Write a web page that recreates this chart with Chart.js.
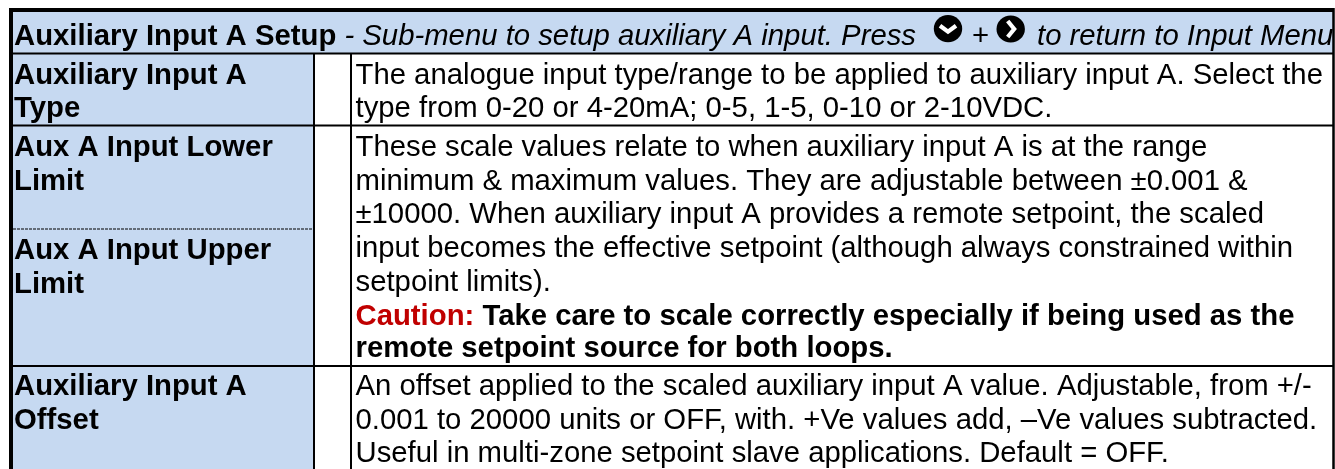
<!DOCTYPE html>
<html><head><meta charset="utf-8">
<style>html,body{margin:0;padding:0;background:#fff}#w{position:relative;width:1335px;height:469px}canvas{display:block}</style>
<script src="https://cdn.jsdelivr.net/npm/chart.js@4"></script>
</head><body><div id="w"><canvas id="c" width="1335" height="469"></canvas></div>
<script>
// Table content (the "data" of this figure)
const titleBold = "Auxiliary Input A Setup";
const titleItalicA = " - Sub-menu to setup auxiliary A input. Press";
const titlePlus = "+";
const titleItalicB = "to return to Input Menu";
const parameterLines = [
  ["Auxiliary Input A", "Type"],
  ["Aux A Input Lower", "Limit"],
  ["Aux A Input Upper", "Limit"],
  ["Auxiliary Input A", "Offset"]
];
const descriptionLines = [
  "The analogue input type/range to be applied to auxiliary input A. Select the",
  "type from 0-20 or 4-20mA; 0-5, 1-5, 0-10 or 2-10VDC.",
  "These scale values relate to when auxiliary input A is at the range",
  "minimum & maximum values. They are adjustable between ±0.001 &",
  "±10000. When auxiliary input A provides a remote setpoint, the scaled",
  "input becomes the effective setpoint (although always constrained within",
  "setpoint limits).",
  "",
  "remote setpoint source for both loops.",
  "An offset applied to the scaled auxiliary input A value. Adjustable, from +/-",
  "0.001 to 20000 units or OFF, with. +Ve values add, –Ve values subtracted.",
  "Useful in multi-zone setpoint slave applications. Default = OFF."
];
const cautionLabel = "Caution:";
const cautionText = " Take care to scale correctly especially if being used as the";

// Table geometry, in axis units
const colEdges = [11, 314, 351, 1333.5];
const rowEdges = [10, 53.5, 125.5, 366, 480];
const dashedY = 229;
const descBaselines = [84,116.5,155.5,189.5,223,257,290.5,324.5,357,394.5,428.5,462];
const paramBaselines = [[84,116.5],[155.5,189.5],[258.5,292.5],[394.5,428.5]];
const BLUE = "#C6D9F1";

function cell(l, r, t, b) {
  return { type:"bar", data:[{x:(l+r)/2, y:[t,b]}], barThickness:r-l, grouped:false,
           backgroundColor:BLUE, borderWidth:0, order:5 };
}
function rule(x1,y1,x2,y2,w,dash) {
  return { type:"line", data:[{x:x1,y:y1},{x:x2,y:y2}], borderColor:"#000", borderWidth:w,
           borderDash:dash||[], pointRadius:0, fill:false, tension:0, order:1 };
}
const datasets = [
  cell(colEdges[0], colEdges[3], rowEdges[0], rowEdges[1]),
  cell(colEdges[0], colEdges[1], rowEdges[1], rowEdges[4]),
  rule(colEdges[0],10,colEdges[3],10,4),
  rule(11,8,11,469,4),
  rule(colEdges[3],8,colEdges[3],469,2.5),
  rule(11,rowEdges[1],colEdges[3],rowEdges[1],2),
  rule(11,rowEdges[2],colEdges[3],rowEdges[2],2),
  rule(11,rowEdges[3],colEdges[3],rowEdges[3],2),
  rule(colEdges[1],rowEdges[1],colEdges[1],469,2),
  rule(colEdges[2],rowEdges[1],colEdges[2],469,2),
  rule(13,dashedY,313,dashedY,1,[3,1])
];

const FONT = '"Liberation Sans", Arial, sans-serif';
const SIZE = 29.3;
const textPlugin = {
  id:"tableText",
  afterDatasetsDraw(chart){
    const c = chart.ctx, X = chart.scales.x, Y = chart.scales.y;
    c.save();
    c.textBaseline = "alphabetic"; c.textAlign = "left";
    const put = (s,x,y,style,col) => {
      c.font = style+" "+SIZE+"px "+FONT; c.fillStyle = col||"#000";
      c.fillText(s,X.getPixelForValue(x), Y.getPixelForValue(y));
      return x + c.measureText(s).width;
    };
    // header
    let x = put(titleBold,14,45,"bold");
    put(titleItalicA,x,45,"italic");
    const badge = (cx,cy,down) => {
      const px=X.getPixelForValue(cx), py=Y.getPixelForValue(cy);
      c.beginPath(); c.ellipse(px,py,14.2,13.6,0,0,Math.PI*2); c.fillStyle="#000"; c.fill();
      c.beginPath(); c.strokeStyle="#fff"; c.lineWidth=4.2; c.lineJoin="miter";
      if(down){ c.moveTo(px-8,py-3); c.lineTo(px,py+3); c.lineTo(px+8,py-3); }
      else { c.moveTo(px-3,py-8); c.lineTo(px+3.5,py); c.lineTo(px-3,py+8); }
      c.stroke();
    };
    badge(948,28.7,true); badge(1010.7,29,false);
    put(titlePlus,972,45,"normal");
    put(titleItalicB,1037,45,"italic");
    // parameters
    parameterLines.forEach((ls,i)=>ls.forEach((s,j)=>put(s,14,paramBaselines[i][j],"bold")));
    // descriptions
    descriptionLines.forEach((s,i)=>{ if(s) put(s,355.5,descBaselines[i],i===8?"bold":"normal"); });
    const cx = put(cautionLabel,355.5,descBaselines[7],"bold","#C00000");
    put(cautionText,cx,descBaselines[7],"bold");
    c.restore();
  }
};
new Chart(document.getElementById("c"),{
  data:{datasets},
  plugins:[textPlugin],
  options:{
    responsive:false, animation:false, devicePixelRatio:1,
    layout:{padding:0},
    plugins:{legend:{display:false},tooltip:{enabled:false},title:{display:false}},
    scales:{
      x:{type:"linear",min:0,max:1335,display:false,offset:false},
      y:{type:"linear",min:0,max:469,reverse:true,display:false}
    }
  }
});
</script></body></html>
